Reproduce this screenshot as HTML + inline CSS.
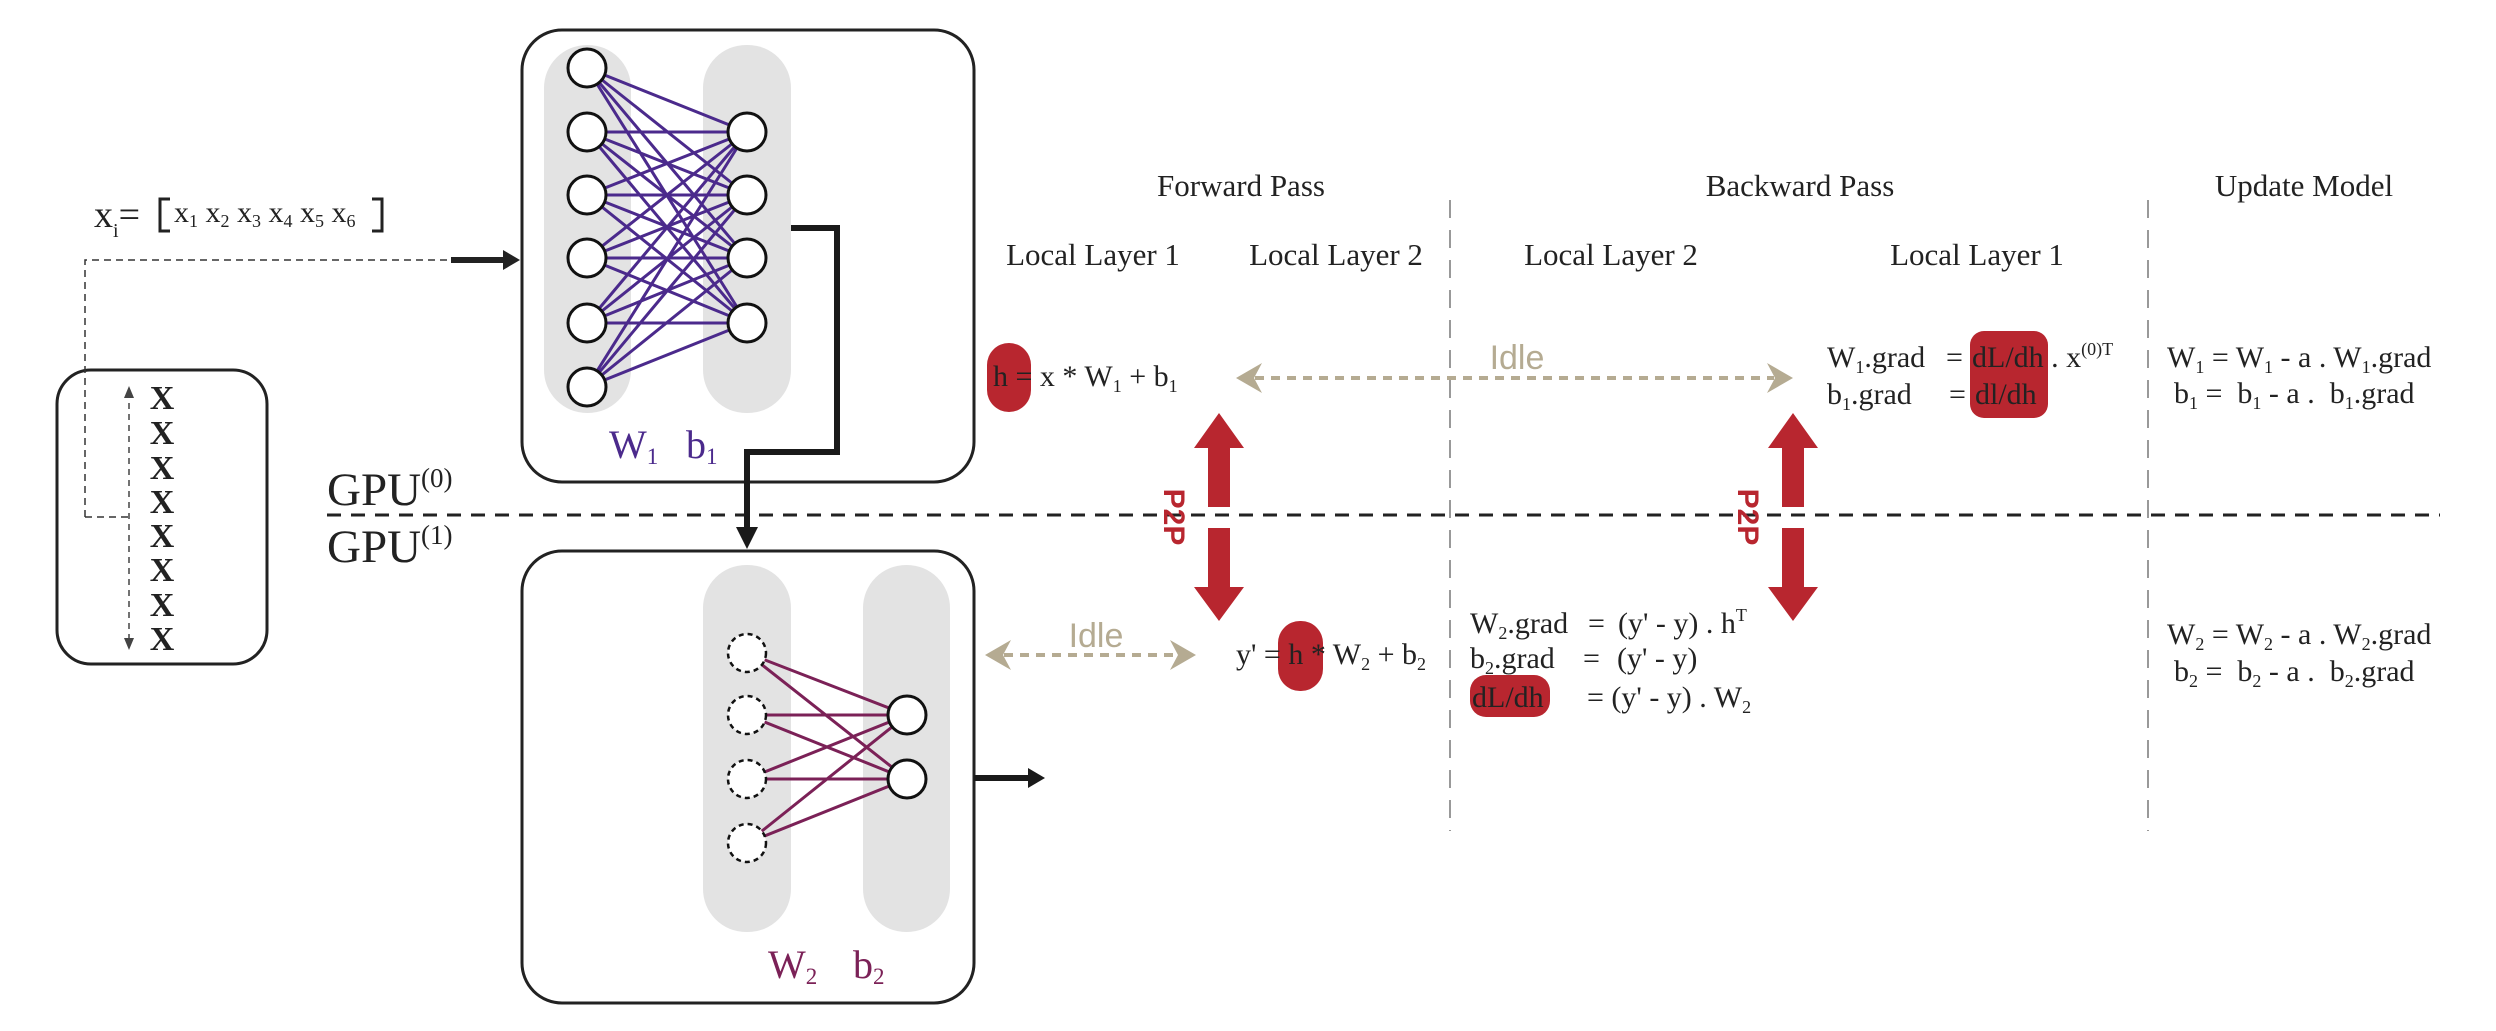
<!DOCTYPE html>
<html><head><meta charset="utf-8"><style>
html,body{margin:0;padding:0;background:#fff}
svg{display:block}
text{font-family:"Liberation Serif",serif;fill:#222;white-space:pre}
</style></head><body>
<svg width="2496" height="1031" viewBox="0 0 2496 1031" xmlns="http://www.w3.org/2000/svg" xml:space="preserve">
<line x1="327" y1="515" x2="2440" y2="515" stroke="#222" stroke-width="3" stroke-dasharray="14 10"/>
<line x1="1450" y1="200" x2="1450" y2="831" stroke="#999" stroke-width="2" stroke-dasharray="18 12"/>
<line x1="2148" y1="200" x2="2148" y2="831" stroke="#999" stroke-width="2" stroke-dasharray="18 12"/>

<rect x="57" y="370" width="210" height="294" rx="34" fill="#fff" stroke="#222" stroke-width="3"/>
<line x1="129" y1="392" x2="129" y2="644" stroke="#444" stroke-width="1.5" stroke-dasharray="6 5"/>
<path d="M124,398 L129,386 L134,398z M124,638 L129,650 L134,638z" fill="#444"/>
<g font-size="34" font-weight="bold" text-anchor="middle">
<text x="162" y="409">X</text><text x="162" y="444">X</text><text x="162" y="479">X</text><text x="162" y="513">X</text>
<text x="162" y="547">X</text><text x="162" y="581">X</text><text x="162" y="616">X</text><text x="162" y="650">X</text>
</g>
<path d="M85,517 L85,260 L451,260" fill="none" stroke="#333" stroke-width="1.5" stroke-dasharray="7 5"/>
<line x1="85" y1="517" x2="128" y2="517" stroke="#333" stroke-width="1.5" stroke-dasharray="7 5"/>
<line x1="451" y1="260" x2="505" y2="260" stroke="#222" stroke-width="6"/>
<path d="M503,250 L520,260 L503,270z" fill="#222"/>
<text x="94" y="227" font-size="38">x<tspan font-size="20" dy="10">i</tspan><tspan dy="-10">=</tspan></text>
<path d="M170,199 L160,199 L160,231 L170,231 M372,199 L382,199 L382,231 L372,231" fill="none" stroke="#222" stroke-width="3"/>
<text x="174" y="222" font-size="30">x<tspan font-size="18" dy="5">1</tspan><tspan dy="-5"> x</tspan><tspan font-size="18" dy="5">2</tspan><tspan dy="-5"> x</tspan><tspan font-size="18" dy="5">3</tspan><tspan dy="-5"> x</tspan><tspan font-size="18" dy="5">4</tspan><tspan dy="-5"> x</tspan><tspan font-size="18" dy="5">5</tspan><tspan dy="-5"> x</tspan><tspan font-size="18" dy="5">6</tspan></text>

<text x="327" y="505" font-size="47">GPU<tspan font-size="27" dy="-18">(0)</tspan></text>
<text x="327" y="562" font-size="47">GPU<tspan font-size="27" dy="-18">(1)</tspan></text>

<rect x="522" y="30" width="452" height="452" rx="40" fill="#fff" stroke="#222" stroke-width="3"/>
<rect x="544" y="45" width="87" height="368" rx="43" fill="#e3e3e3"/>
<rect x="703" y="45" width="88" height="368" rx="43" fill="#e3e3e3"/>
<g stroke="#4b2a8c" stroke-width="3">
<path d="M587,68L747,132M587,68L747,195M587,68L747,258M587,68L747,323
M587,132L747,132M587,132L747,195M587,132L747,258M587,132L747,323
M587,195L747,132M587,195L747,195M587,195L747,258M587,195L747,323
M587,258L747,132M587,258L747,195M587,258L747,258M587,258L747,323
M587,323L747,132M587,323L747,195M587,323L747,258M587,323L747,323
M587,387L747,132M587,387L747,195M587,387L747,258M587,387L747,323"/>
</g>
<g fill="#fff" stroke="#111" stroke-width="3">
<circle cx="587" cy="68" r="19"/><circle cx="587" cy="132" r="19"/><circle cx="587" cy="195" r="19"/>
<circle cx="587" cy="258" r="19"/><circle cx="587" cy="323" r="19"/><circle cx="587" cy="387" r="19"/>
<circle cx="747" cy="132" r="19"/><circle cx="747" cy="195" r="19"/><circle cx="747" cy="258" r="19"/><circle cx="747" cy="323" r="19"/>
</g>
<text x="609" y="458" font-size="40" style="fill:#4b2a8c">W<tspan font-size="23" dy="6">1</tspan></text>
<text x="686" y="458" font-size="40" style="fill:#4b2a8c">b<tspan font-size="23" dy="6">1</tspan></text>

<path d="M791,228 L837,228 L837,452 L747,452 L747,532" fill="none" stroke="#1a1a1a" stroke-width="6"/>
<path d="M736,527 L747,549 L758,527z" fill="#1a1a1a"/>

<rect x="522" y="551" width="452" height="452" rx="40" fill="#fff" stroke="#222" stroke-width="3"/>
<rect x="703" y="565" width="88" height="367" rx="43" fill="#e3e3e3"/>
<rect x="863" y="565" width="87" height="367" rx="43" fill="#e3e3e3"/>
<g stroke="#7b2157" stroke-width="3">
<path d="M747,653L907,715M747,653L907,779M747,715L907,715M747,715L907,779M747,779L907,715M747,779L907,779M747,843L907,715M747,843L907,779"/>
</g>
<g fill="#fff" stroke="#111" stroke-width="2.5" stroke-dasharray="5 4">
<circle cx="747" cy="653" r="19"/><circle cx="747" cy="715" r="19"/><circle cx="747" cy="779" r="19"/><circle cx="747" cy="843" r="19"/>
</g>
<g fill="#fff" stroke="#111" stroke-width="3">
<circle cx="907" cy="715" r="19"/><circle cx="907" cy="779" r="19"/>
</g>
<text x="768" y="978" font-size="40" style="fill:#7b2157">W<tspan font-size="23" dy="6">2</tspan></text>
<text x="853" y="978" font-size="40" style="fill:#7b2157">b<tspan font-size="23" dy="6">2</tspan></text>
<line x1="974" y1="778" x2="1030" y2="778" stroke="#1a1a1a" stroke-width="6"/>
<path d="M1028,768 L1045,778 L1028,788z" fill="#1a1a1a"/>

<g font-size="31" text-anchor="middle">
<text x="1241" y="196">Forward Pass</text>
<text x="1800" y="196">Backward Pass</text>
<text x="2304" y="196">Update Model</text>
<text x="1093" y="265">Local Layer 1</text>
<text x="1336" y="265">Local Layer 2</text>
<text x="1611" y="265">Local Layer 2</text>
<text x="1977" y="265">Local Layer 1</text>
</g>

<rect x="987" y="343" width="44" height="69" rx="22" fill="#b8262f"/>
<rect x="1278" y="621" width="45" height="70" rx="22" fill="#b8262f"/>
<rect x="1970" y="331" width="78" height="87" rx="14" fill="#b8262f"/>
<rect x="1470" y="675" width="80" height="42" rx="16" fill="#b8262f"/>

<g fill="#b8262f">
<path d="M1219,413 L1244,448 L1230,448 L1230,507 L1208,507 L1208,448 L1194,448z"/>
<path d="M1219,621 L1244,587 L1230,587 L1230,528 L1208,528 L1208,587 L1194,587z"/>
<path d="M1793,413 L1818,448 L1804,448 L1804,507 L1782,507 L1782,448 L1768,448z"/>
<path d="M1793,621 L1818,587 L1804,587 L1804,528 L1782,528 L1782,587 L1768,587z"/>
</g>
<text transform="translate(1164,517) rotate(90)" font-size="30" font-weight="bold" text-anchor="middle" style="fill:#b8262f;font-family:'Liberation Sans',sans-serif">P2P</text>
<text transform="translate(1738,517) rotate(90)" font-size="30" font-weight="bold" text-anchor="middle" style="fill:#b8262f;font-family:'Liberation Sans',sans-serif">P2P</text>

<line x1="1255" y1="378" x2="1774" y2="378" stroke="#b5ab92" stroke-width="4" stroke-dasharray="9 7"/>
<path d="M1236,378 L1262,363 L1254,378 L1262,393z M1793,378 L1767,363 L1775,378 L1767,393z" fill="#b5ab92"/>
<text x="1517" y="369" font-size="34" text-anchor="middle" style="fill:#b5ab92;font-family:'Liberation Sans',sans-serif">Idle</text>
<line x1="1004" y1="655" x2="1177" y2="655" stroke="#b5ab92" stroke-width="4" stroke-dasharray="9 7"/>
<path d="M985,655 L1011,640 L1003,655 L1011,670z M1196,655 L1170,640 L1178,655 L1170,670z" fill="#b5ab92"/>
<text x="1096" y="647" font-size="34" text-anchor="middle" style="fill:#b5ab92;font-family:'Liberation Sans',sans-serif">Idle</text>

<g font-size="30">
<text x="993" y="386">h = x * W<tspan font-size="18" dy="6">1</tspan><tspan dy="-6"> + b</tspan><tspan font-size="18" dy="6">1</tspan></text>
<text x="1236" y="664">y' = h * W<tspan font-size="18" dy="6">2</tspan><tspan dy="-6"> + b</tspan><tspan font-size="18" dy="6">2</tspan></text>
<text x="1827" y="367">W<tspan font-size="18" dy="6">1</tspan><tspan dy="-6">.grad</tspan></text>
<text x="1946" y="367">=</text>
<text x="1972" y="367">dL/dh . x<tspan font-size="18" dy="-12">(0)T</tspan></text>
<text x="1827" y="404">b<tspan font-size="18" dy="6">1</tspan><tspan dy="-6">.grad</tspan></text>
<text x="1949" y="404">=</text>
<text x="1975" y="404">dl/dh</text>
<text x="1470" y="633">W<tspan font-size="18" dy="6">2</tspan><tspan dy="-6">.grad</tspan></text>
<text x="1588" y="633">=</text>
<text x="1618" y="633">(y' - y) . h<tspan font-size="18" dy="-12">T</tspan></text>
<text x="1470" y="668">b<tspan font-size="18" dy="6">2</tspan><tspan dy="-6">.grad</tspan></text>
<text x="1583" y="668">=</text>
<text x="1617" y="668">(y' - y)</text>
<text x="1472" y="707">dL/dh</text>
<text x="1587" y="707">= (y' - y) . W<tspan font-size="18" dy="6">2</tspan></text>
<text x="2167" y="367">W<tspan font-size="18" dy="6">1</tspan><tspan dy="-6"> = W</tspan><tspan font-size="18" dy="6">1</tspan><tspan dy="-6"> - a . W</tspan><tspan font-size="18" dy="6">1</tspan><tspan dy="-6">.grad</tspan></text>
<text x="2174" y="403">b<tspan font-size="18" dy="6">1</tspan><tspan dy="-6"> =  b</tspan><tspan font-size="18" dy="6">1</tspan><tspan dy="-6"> - a .  b</tspan><tspan font-size="18" dy="6">1</tspan><tspan dy="-6">.grad</tspan></text>
<text x="2167" y="644">W<tspan font-size="18" dy="6">2</tspan><tspan dy="-6"> = W</tspan><tspan font-size="18" dy="6">2</tspan><tspan dy="-6"> - a . W</tspan><tspan font-size="18" dy="6">2</tspan><tspan dy="-6">.grad</tspan></text>
<text x="2174" y="681">b<tspan font-size="18" dy="6">2</tspan><tspan dy="-6"> =  b</tspan><tspan font-size="18" dy="6">2</tspan><tspan dy="-6"> - a .  b</tspan><tspan font-size="18" dy="6">2</tspan><tspan dy="-6">.grad</tspan></text>
</g>
</svg>
</body></html>
